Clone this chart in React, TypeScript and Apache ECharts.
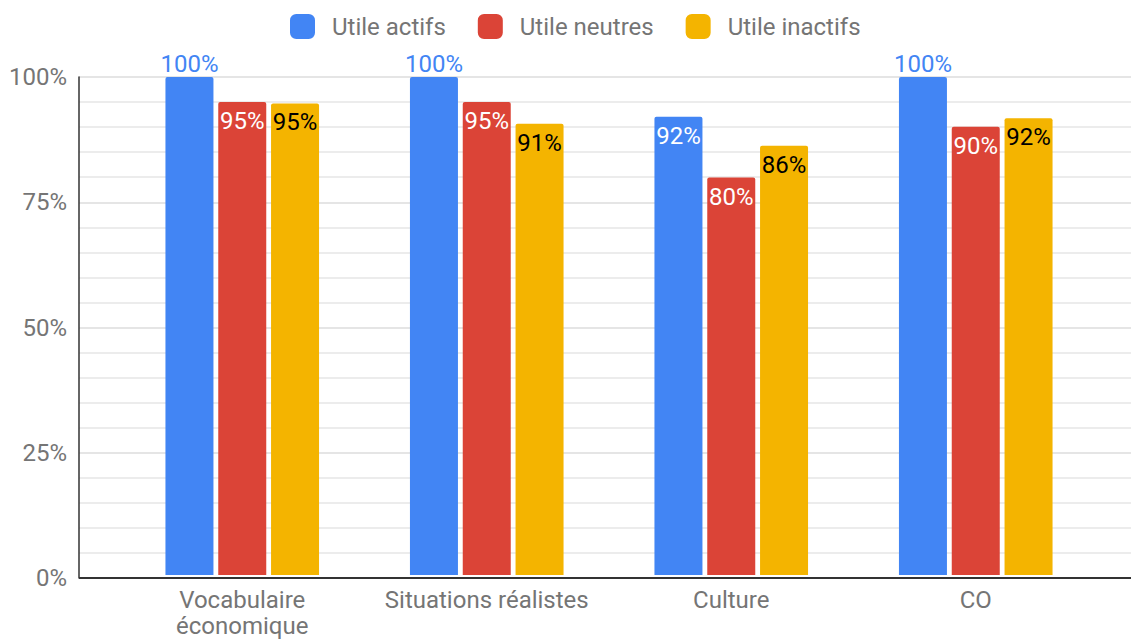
import React, { useEffect, useRef } from "react";
import * as echarts from "echarts";

const categories = ["Vocabulaire\néconomique", "Situations réalistes", "Culture", "CO"];
const seriesNames = ["Utile actifs", "Utile neutres", "Utile inactifs"];
const actifs = [100, 100, 92.0, 100];
const neutres = [95.0, 95.0, 79.8, 90.0];
const inactifs = [94.7, 90.6, 86.2, 91.7];
const yTicks = [0, 25, 50, 75, 100];

const colors = ["#4285F4", "#DB4437", "#F4B400"];
const labelColors = ["#ffffff", "#ffffff", "#000000"];
const FONT = "Roboto";

export default function App() {
  const ref = useRef<HTMLDivElement>(null);
  useEffect(() => {
    document.body.style.margin = "0";
    const chart = echarts.init(ref.current!, null, { renderer: "svg" });
    const all = [actifs, neutres, inactifs];
    const series = all.map((vals, si) => ({
      name: seriesNames[si],
      type: "bar",
      xAxisIndex: 1,
      yAxisIndex: 1,
      barWidth: 48,
      barGap: "10%",
      itemStyle: { color: colors[si], borderRadius: [2, 2, 0, 0] },
      data: vals.map((v) => ({
        value: v,
        label:
          v >= 99.5
            ? { position: "top", distance: 1, color: colors[si] }
            : { position: "insideTop", distance: 7, color: labelColors[si] },
      })),
      label: {
        show: true,
        fontFamily: FONT,
        fontSize: 24,
        formatter: (p: any) => Math.round(p.value) + "%",
      },
    }));
    chart.setOption({
      animation: false,
      textStyle: { fontFamily: FONT },
      legend: {
        top: 9,
        left: 285,
        itemWidth: 25,
        itemHeight: 25,
        itemGap: 32,
        icon: "roundRect",
        textStyle: { fontSize: 24, color: "#757575", fontFamily: FONT, padding: [0, 0, 0, 12] },
        data: seriesNames,
      },
      grid: [
        { left: 79, right: 0, top: 77, bottom: 61 },
        { left: 120, right: 33, top: 77, bottom: 61 },
      ],
      xAxis: [
        {
          gridIndex: 0,
          type: "value",
          min: 0,
          max: 1,
          axisLine: { show: false },
          axisTick: { show: false },
          axisLabel: { show: false },
          splitLine: { show: false },
        },
        {
          gridIndex: 1,
          type: "category",
          data: categories,
          axisLine: { show: false },
          axisTick: { show: false },
          axisLabel: {
            interval: 0,
            fontSize: 24,
            color: "#757575",
            fontFamily: FONT,
            lineHeight: 26,
            margin: 12,
          },
        },
      ],
      yAxis: [
        {
          gridIndex: 0,
          type: "value",
          min: yTicks[0],
          max: yTicks[yTicks.length - 1],
          interval: 25,
          axisLine: { show: true, lineStyle: { color: "#333333", width: 1.5 } },
          axisTick: { show: false },
          axisLabel: {
            fontSize: 24,
            color: "#757575",
            fontFamily: FONT,
            margin: 12,
            formatter: (v: number) => v + "%",
          },
          splitLine: { show: true, lineStyle: { color: "#dddddd", width: 1.5 } },
          minorTick: { show: false, splitNumber: 5 },
          minorSplitLine: { show: true, lineStyle: { color: "#e6e6e6", width: 1.5 } },
        },
        {
          gridIndex: 1,
          type: "value",
          min: 0,
          max: 100,
          show: false,
          splitLine: { show: false },
        },
      ],
      series: [
        ...series,
        {
          type: "line",
          xAxisIndex: 0,
          yAxisIndex: 0,
          data: [],
          silent: true,
          markLine: {
            silent: true,
            symbol: "none",
            label: { show: false },
            lineStyle: { color: "#333333", width: 2, type: "solid" },
            data: [{ yAxis: 0 }],
          },
        },
      ],
    });
    return () => chart.dispose();
  }, []);
  return <div ref={ref} style={{ width: 1131, height: 639 }} />;
}
